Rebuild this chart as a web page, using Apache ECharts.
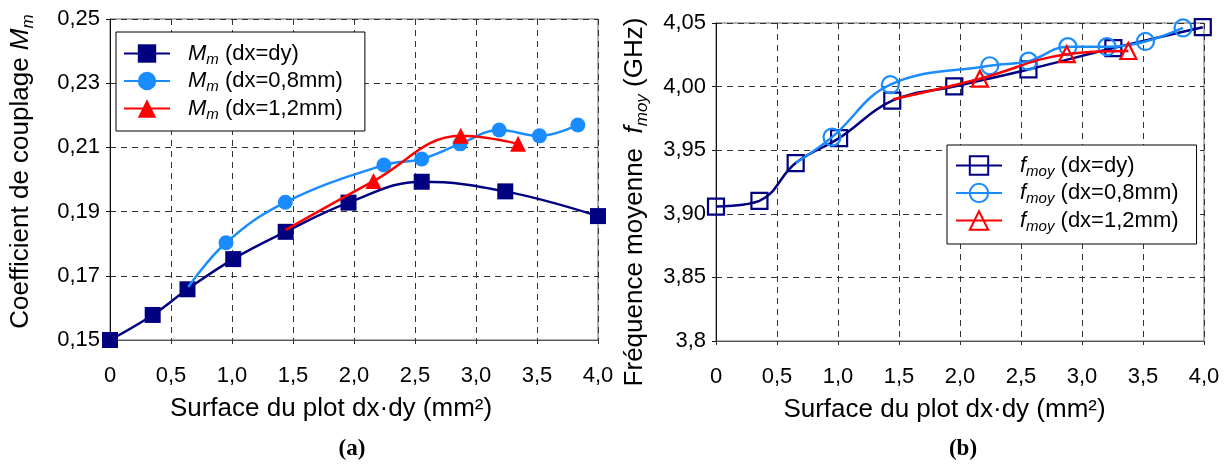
<!DOCTYPE html>
<html><head><meta charset="utf-8">
<script src="https://cdn.jsdelivr.net/npm/echarts@6/dist/echarts.min.js"></script>
<style>html,body{margin:0;padding:0;background:#fff}#c{width:1227px;height:464px}</style>
</head><body><div id="c"></div>
<script>
// ---------- data ----------
// Chart (a): coupling coefficient Mm vs surface dx·dy (mm²)
const xA_dxdy = [0, 0.35, 0.635, 1.01, 1.44, 1.955, 2.555, 3.24, 4.0];
const mA_dxdy = [0.150, 0.1578, 0.1658, 0.1752, 0.1837, 0.1928, 0.1993, 0.1963, 0.1886];
const xA_08 = [0.642, 0.951, 1.437, 2.245, 2.555, 2.87, 3.19, 3.52, 3.835];
const mA_08 = [0.1665, 0.1803, 0.1929, 0.2045, 0.2064, 0.2111, 0.2154, 0.2136, 0.2170];
const xA_12 = [1.44, 2.16, 2.875, 3.345];
const mA_12 = [0.1843, 0.1995, 0.2136, 0.2111];
// Chart (b): mean frequency fmoy (GHz) vs surface dx·dy (mm²)
const xB_dxdy = [0, 0.356, 0.653, 1.009, 1.445, 1.953, 2.561, 3.257, 3.99];
const fB_dxdy = [3.9057, 3.9102, 3.9399, 3.9595, 3.9889, 4.0001, 4.0135, 4.0303, 4.0467];
const xB_08 = [0.653, 0.951, 1.429, 2.244, 2.561, 2.884, 3.205, 3.52, 3.828];
const fB_08 = [3.9399, 3.9603, 4.0015, 4.0164, 4.0200, 4.0314, 4.0314, 4.0355, 4.0461];
const xB_12 = [1.45, 2.163, 2.875, 3.38];
const fB_12 = [3.990, 4.0062, 4.0255, 4.0280];
// Series names
const namesA = ['Mm (dx=dy)', 'Mm (dx=0,8mm)', 'Mm (dx=1,2mm)'];
const namesB = ['fmoy (dx=dy)', 'fmoy (dx=0,8mm)', 'fmoy (dx=1,2mm)'];
const legendSuffix = ['(dx=dy)', '(dx=0,8mm)', '(dx=1,2mm)'];
// Tick values and labels
const xTickValues = [0, 0.5, 1.0, 1.5, 2.0, 2.5, 3.0, 3.5, 4.0];
const xTickLabels = ['0', '0,5', '1,0', '1,5', '2,0', '2,5', '3,0', '3,5', '4,0'];
const yTickValuesA = [0.15, 0.17, 0.19, 0.21, 0.23, 0.25];
const yTickLabelsA = ['0,15', '0,17', '0,19', '0,21', '0,23', '0,25'];
const yTickValuesB = [3.80, 3.85, 3.90, 3.95, 4.00, 4.05];
const yTickLabelsB = ['3,8', '3,85', '3,90', '3,95', '4,00', '4,05'];
const xTitle = 'Surface du plot dx·dy (mm²)';

// ---------- styling ----------
const FONT = '"Liberation Sans", Arial, Helvetica, sans-serif';
const NAVY = '#000080', SKY = '#1a8cff', RED = '#ff0000';
const NONE = 'rgba(255,255,255,0)';

function lookup(vals, labels) {
  return v => { const i = vals.findIndex(t => Math.abs(t - v) < 1e-6); return i >= 0 ? labels[i] : ''; };
}
function pairs(xs, ys, hideFirst) {
  return xs.map((x, i) => (hideFirst && i === 0) ? { value: [x, ys[i]], symbol: 'none' } : [x, ys[i]]);
}

const subRich = {
  i: { fontFamily: FONT, fontSize: 22, fontStyle: 'italic', color: '#000', lineHeight: 22, padding: [0, 0, 0, 13] },
  s: { fontFamily: FONT, fontSize: 15, fontStyle: 'italic', color: '#000', lineHeight: 10, padding: [12, 0, 0, 0] },
  n: { fontFamily: FONT, fontSize: 22, color: '#000', lineHeight: 22 }
};
const legendMap = {};
namesA.forEach((n, k) => legendMap[n] = '{i|M}{s|m}{n| ' + legendSuffix[k] + '}');
namesB.forEach((n, k) => legendMap[n] = '{i|f}{s|moy}{n| ' + legendSuffix[k] + '}');

function xAxis(grid, padRight) {
  return {
    type: 'value', gridIndex: grid, min: 0, max: 4, interval: 0.5,
    axisLine: { show: true, onZero: false, lineStyle: { color: '#555', width: 1 } },
    axisTick: { show: true, length: 4, lineStyle: { color: '#333' } },
    axisLabel: { fontFamily: FONT, fontSize: 22, color: '#000', margin: 25, formatter: lookup(xTickValues, xTickLabels) },
    splitLine: { show: true, lineStyle: { type: [6, 5], color: '#333', width: 1 } },
    name: xTitle, nameLocation: 'middle', nameGap: 56,
    nameTextStyle: { fontFamily: FONT, fontSize: 26, color: '#000', padding: [0, padRight, 0, 0] }
  };
}
function yAxis(grid, min, max, interval, vals, labels, name, rich, pad, gap) {
  return {
    type: 'value', gridIndex: grid, min: min, max: max, interval: interval,
    axisLine: { show: true, onZero: false, lineStyle: { color: '#111', width: 1 } },
    axisTick: { show: true, length: 4, lineStyle: { color: '#111' } },
    axisLabel: { fontFamily: FONT, fontSize: 22, color: '#000', margin: 10, formatter: lookup(vals, labels) },
    splitLine: { show: true, lineStyle: { type: [6, 5], color: '#333', width: 1 } },
    name: name, nameLocation: 'middle', nameRotate: 90, nameGap: gap,
    nameTextStyle: { fontFamily: FONT, fontSize: 26, color: '#000', padding: pad, rich: rich }
  };
}
const titleRich = {
  n: { fontFamily: FONT, fontSize: 26, color: '#000', lineHeight: 26 },
  i: { fontFamily: FONT, fontSize: 26, fontStyle: 'italic', color: '#000', lineHeight: 26 },
  s: { fontFamily: FONT, fontSize: 17, fontStyle: 'italic', color: '#000', lineHeight: 12, padding: [14, 0, 0, 0] }
};

function legend(names, left, top, pad) {
  return {
    data: names, orient: 'vertical', left: left, top: top,
    itemWidth: 46, itemHeight: 23, itemGap: 0.5, padding: pad,
    backgroundColor: '#fff', borderColor: '#000', borderWidth: 1, borderRadius: 0,
    selectedMode: false,
    textStyle: { fontFamily: FONT, fontSize: 22, color: '#000', rich: subRich },
    formatter: name => legendMap[name]
  };
}

function lineSeries(name, xi, data, color, symbol, size, hollow, z) {
  return {
    name: name, type: 'line', xAxisIndex: xi, yAxisIndex: xi, data: data,
    smooth: 0.4, symbol: symbol, symbolSize: size, showSymbol: true, z: z,
    lineStyle: { color: color, width: 2.5 },
    itemStyle: hollow ? { color: NONE, borderColor: color, borderWidth: 2.2 } : { color: color, borderWidth: 0 },
    emphasis: { disabled: true }, animation: false
  };
}

const chart = echarts.init(document.getElementById('c'), null, { renderer: 'canvas' });
chart.setOption({
  animation: false,
  backgroundColor: '#fff',
  textStyle: { fontFamily: FONT },
  grid: [
    { left: 110, top: 19, width: 488, height: 321, show: true, borderColor: '#666', borderWidth: 1, backgroundColor: '#fff', containLabel: false, outerBoundsMode: 'none' },
    { left: 716, top: 23, width: 488, height: 318, show: true, borderColor: '#666', borderWidth: 1, backgroundColor: '#fff', containLabel: false, outerBoundsMode: 'none' }
  ],
  xAxis: [xAxis(0, 46), xAxis(1, 31)],
  yAxis: [
    yAxis(0, 0.15, 0.25, 0.02, yTickValuesA, yTickLabelsA,
      '{n|Coefficient de couplage }{i|M}{s|m}', titleRich, [0, 0, 0, 16], 76),
    yAxis(1, 3.8, 4.05, 0.05, yTickValuesB, yTickLabelsB,
      '{n|Fréquence moyenne  }{i|f}{s|moy}{n| (GHz)}', titleRich, [0, 40, 0, 0], 68)
  ],
  legend: [
    legend(namesA, 116, 32, [8, 22, 9, 7]),
    legend(namesB, 947, 145, [7, 18, 10, 8])
  ],
  series: [
    lineSeries(namesA[0], 0, pairs(xA_dxdy, mA_dxdy, false), NAVY, 'rect', 16, false, 2),
    lineSeries(namesA[1], 0, pairs(xA_08, mA_08, true), SKY, 'circle', 15, false, 3),
    lineSeries(namesA[2], 0, pairs(xA_12, mA_12, true), RED, 'triangle', 16, false, 4),
    lineSeries(namesB[0], 1, pairs(xB_dxdy, fB_dxdy, false), NAVY, 'rect', 16, true, 2),
    lineSeries(namesB[1], 1, pairs(xB_08, fB_08, true), SKY, 'circle', 17, true, 3),
    lineSeries(namesB[2], 1, pairs(xB_12, fB_12, true), RED, 'triangle', 16, true, 4)
  ],
  graphic: [
    { type: 'text', x: 352, y: 449, style: { text: '(a)', font: 'bold 23px "Liberation Serif", "Times New Roman", serif', fill: '#000', align: 'center', verticalAlign: 'middle' } },
    { type: 'text', x: 963, y: 449, style: { text: '(b)', font: 'bold 23px "Liberation Serif", "Times New Roman", serif', fill: '#000', align: 'center', verticalAlign: 'middle' } }
  ]
});
</script>
</body></html>
